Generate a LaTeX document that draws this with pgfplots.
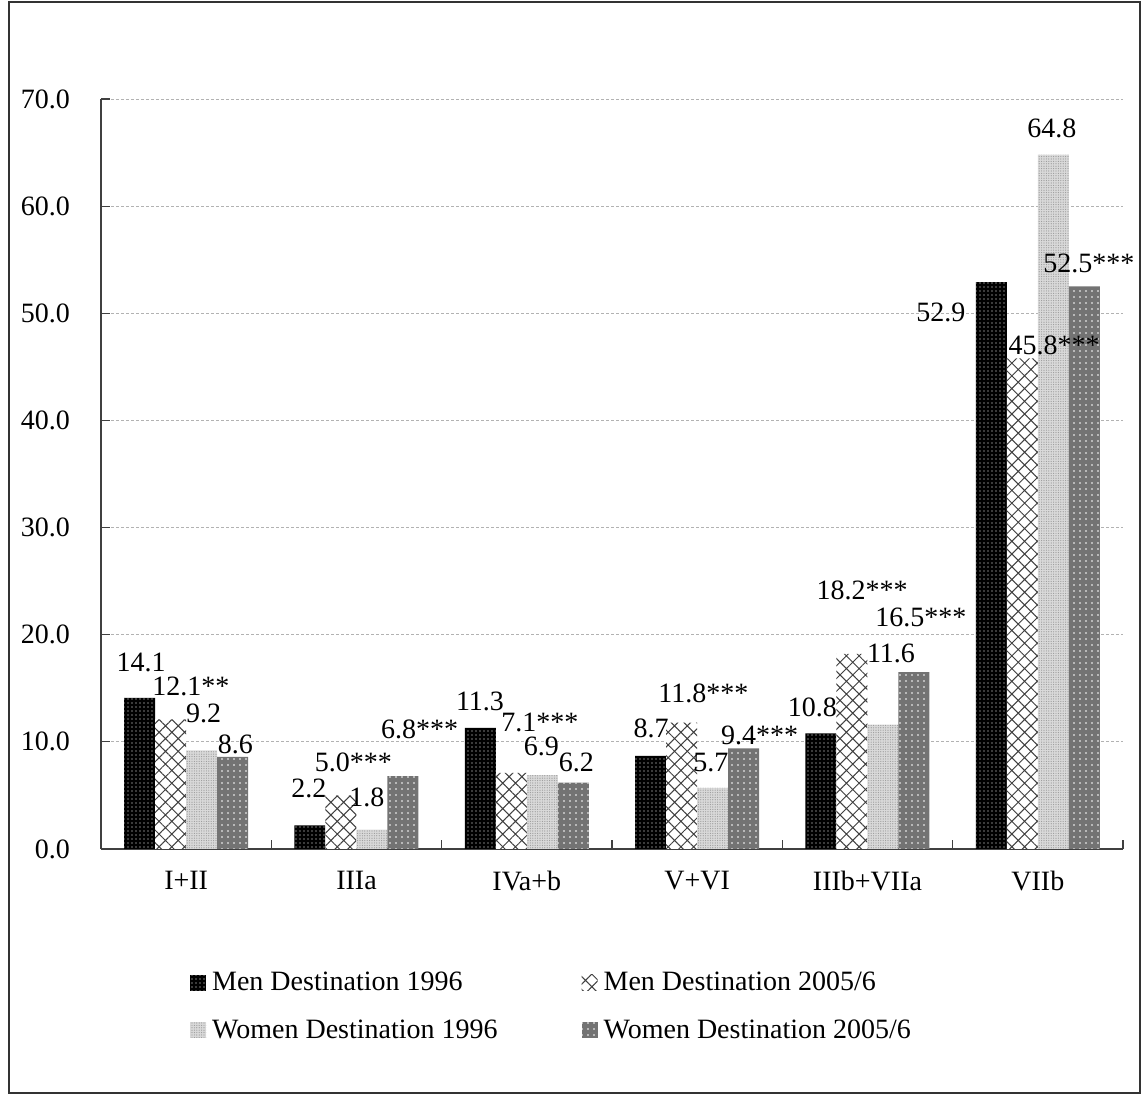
\documentclass[border=0pt]{standalone}
\usepackage{pgfplots}
\pgfplotsset{compat=1.18}
\usepackage{fontspec}
\setmainfont{Liberation Serif}
\usetikzlibrary{patterns.meta}
\newcommand{\lblfont}{\fontsize{14}{16.8}\selectfont}
\pgfplotsset{
  mybar/.style={ybar, bar width=0.182, draw=none,
    legend image code/.code={\path[##1, draw=none] (0pt,-4pt) rectangle (8pt,4pt);}},
  menA/.style={mybar, fill=black, postaction={pattern={Dots[distance=2pt,radius=0.35pt]}, pattern color=white}},
  menB/.style={mybar, fill=white, postaction={pattern={Hatch[angle=45,distance=4.5pt,line width=0.5pt]}, pattern color=black!75}},
  womA/.style={mybar, fill=black!15, postaction={pattern={Dots[distance=1.2pt,radius=0.3pt]}, pattern color=black!40}},
  womB/.style={mybar, fill=black!55, postaction={pattern={Dots[distance=3pt,radius=0.4pt]}, pattern color=white}},
}
\begin{document}
\begin{tikzpicture}
\useasboundingbox (-50.5pt,-123pt) rectangle (520.5pt,424.5pt);
\draw[line width=0.8pt, black!80] (-46pt,-122pt) rectangle (519.5pt,423.5pt);
\begin{axis}[
  at={(0,0)}, anchor=south west,
  scale only axis, width=511pt, height=375pt,
  xmin=-0.5, xmax=5.5, ymin=0, ymax=70,
  clip=false,
  axis x line*=bottom, axis y line*=left,
  axis line style={black!75, line width=0.6pt},
  xtick={0,1,2,3,4,5},
  xticklabels={I+II, IIIa, IVa+b, V+VI, IIIb+VIIa, VIIb},
  minor xtick={0.5,1.5,2.5,3.5,4.5,5.5},
  major x tick style={draw=none},
  ytick={0,10,20,30,40,50,60,70},
  tick align=inside,
  major tick length=4.5pt, minor tick length=4.5pt,
  tick style={black!75, line width=0.6pt},
  ymajorgrids,
  grid style={gray!60, dash pattern=on 1.5pt off 1pt, line width=0.4pt},
  /pgf/number format/fixed, /pgf/number format/fixed zerofill, /pgf/number format/precision=1,
  /pgf/number format/assume math mode=true,
  yticklabel style={font=\lblfont, xshift=-12pt},
  xticklabel style={font=\lblfont, yshift=-7.5pt},
  legend columns=2,
  legend style={at={(axis description cs:0.081,-0.15)}, anchor=north west, draw=none, fill=none,
    font=\lblfont, nodes={inner sep=3pt},
    /tikz/column 2/.style={column sep=39pt}, row sep=7pt},
  legend cell align=left,
]
\addplot[menA, bar shift=-0.273] coordinates {(0,14.1) (1,2.2) (2,11.3) (3,8.7) (4,10.8) (5,52.9)};
\addlegendentry{Men Destination 1996}
\addplot[menB, bar shift=-0.091] coordinates {(0,12.1) (1,5.0) (2,7.1) (3,11.8) (4,18.2) (5,45.8)};
\addlegendentry{Men Destination 2005/6}
\addplot[womA, bar shift=0.091] coordinates {(0,9.2) (1,1.8) (2,6.9) (3,5.7) (4,11.6) (5,64.8)};
\addlegendentry{Women Destination 1996}
\addplot[womB, bar shift=0.273] coordinates {(0,8.6) (1,6.8) (2,6.2) (3,9.4) (4,16.5) (5,52.5)};
\addlegendentry{Women Destination 2005/6}
\addplot[draw=none, mark=none, forget plot, nodes near coords, point meta=explicit symbolic,
  nodes near coords style={anchor=base, inner sep=0pt, font=\lblfont}] coordinates {
  (-0.265,16.52)[14.1] (0.028,14.28)[12.1**] (0.102,11.76)[9.2] (0.289,8.87)[8.6]
  (0.721,4.76)[2.2] (0.982,7.19)[5.0***] (1.061,3.92)[1.8] (1.370,10.27)[6.8***]
  (1.725,12.88)[11.3] (2.077,11.01)[7.1***] (2.086,8.77)[6.9] (2.291,7.19)[6.2]
  (2.729,10.45)[8.7] (3.037,13.63)[11.8***] (3.081,7.19)[5.7] (3.366,9.71)[9.4***]
  (3.677,12.41)[10.8] (3.968,23.33)[18.2***] (4.138,17.45)[11.6] (4.314,20.72)[16.5***]
  (4.431,49.19)[52.9] (5.095,46.11)[45.8***] (5.083,66.36)[64.8] (5.30,53.76)[52.5***]
};
\end{axis}
\end{tikzpicture}
\end{document}
